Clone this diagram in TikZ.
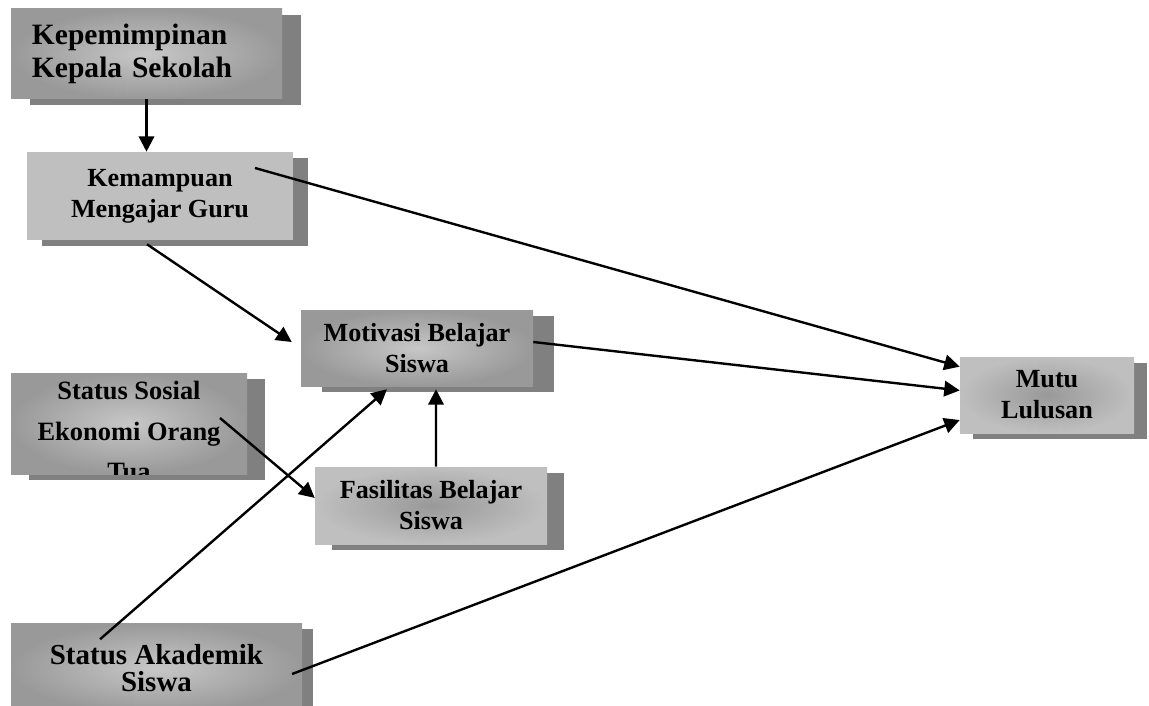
\documentclass[tikz,border=0pt]{standalone}
\usepackage{fontspec}
\setmainfont{Liberation Serif}
\usepackage{tikz}
\usetikzlibrary{shadows,arrows.meta}

\definecolor{boxdark}{gray}{0.6}
\definecolor{boxlight}{gray}{0.78}
\definecolor{boxflat}{gray}{0.75}
\definecolor{boxshadow}{gray}{0.5}

\begin{document}
\begin{tikzpicture}[
  varbox/.style={rectangle, inner sep=0pt, align=center,
    font=\bfseries\fontsize{18.6}{22}\selectfont,
    drop shadow={shadow xshift=#1, shadow yshift=-0.14cm, fill=boxshadow, opacity=1}},
  varbox/.default=0.45cm,
  lightmid/.style={shading=radial, inner color=boxlight, outer color=boxdark},
  darkmid/.style={shading=radial, inner color=boxdark, outer color=boxflat},
  link/.style={-{Triangle[length=11pt,width=11pt]}, line width=1.7pt}
]
\useasboundingbox (0,0) rectangle (28.725,17.625);

\node[varbox=0.47cm, lightmid, minimum width=6.775cm, minimum height=2.25cm,
  text width=5.725cm, align=left, font=\bfseries\fontsize{21}{23.5}\selectfont]
  (kep) at (3.6625,16.275) {Kepemimpinan\\Kepala Sekolah};
\node[varbox=0.375cm, fill=boxflat, minimum width=6.65cm, minimum height=2.2cm]
  (kem) at (4.0,12.725) {Kemampuan\\Mengajar Guru};
\node[varbox=0.525cm, lightmid, minimum width=5.8cm, minimum height=1.9cm]
  (mot) at (10.425,8.925) {Motivasi Belajar\\Siswa};
\node[varbox, lightmid, minimum width=5.9cm, minimum height=2.525cm]
  (sos) at (3.225,7.0375) {};
\node[varbox=0.425cm, darkmid, minimum width=5.8cm, minimum height=1.925cm]
  (fas) at (10.775,4.9875) {Fasilitas Belajar\\Siswa};
\node[varbox=0.325cm, darkmid, minimum width=4.35cm, minimum height=1.9cm]
  (mutu) at (26.175,7.75) {Mutu\\Lulusan};
\node[varbox=0.275cm, lightmid, minimum width=7.275cm, minimum height=2.25cm,
  font=\bfseries\fontsize{20.6}{19.4}\selectfont]
  (aka) at (3.9125,0.925) {Status Akademik\\Siswa};

% last line runs out of the box
\begin{scope}
\clip (sos.south west) rectangle (sos.north east);
\node[align=center, font=\bfseries\fontsize{18.8}{29}\selectfont]
  (sostext) at ([yshift=-0.19cm]sos.center) {Status Sosial\\Ekonomi Orang\\Tua};
\end{scope}

\draw[link] (kep.south) -- (kep.south |- kem.north);
\draw[link] ([xshift=2.375cm,yshift=0.7cm]kem.center) -- (mutu.162);
\draw[link] ([xshift=-0.325cm,yshift=-0.1cm]kem.south) -- ([xshift=-0.225cm,yshift=0.15cm]mot.west);
\draw[link] ([yshift=0.15cm]mot.east) -- (mutu.177);
\draw[link] ([xshift=2.275cm,yshift=0.1375cm]sos.center) -- ([yshift=0.19cm]fas.west);
\draw[link] ([xshift=-1.41cm,yshift=0.72cm]aka.center) -- ([xshift=-0.75cm,yshift=-0.075cm]mot.south);
\draw[link] ([xshift=0.125cm]fas.north) -- ([xshift=0.475cm,yshift=-0.075cm]mot.south);
\draw[link] ([xshift=3.39cm,yshift=-0.15cm]aka.center) -- (mutu.196);

\end{tikzpicture}
\end{document}
